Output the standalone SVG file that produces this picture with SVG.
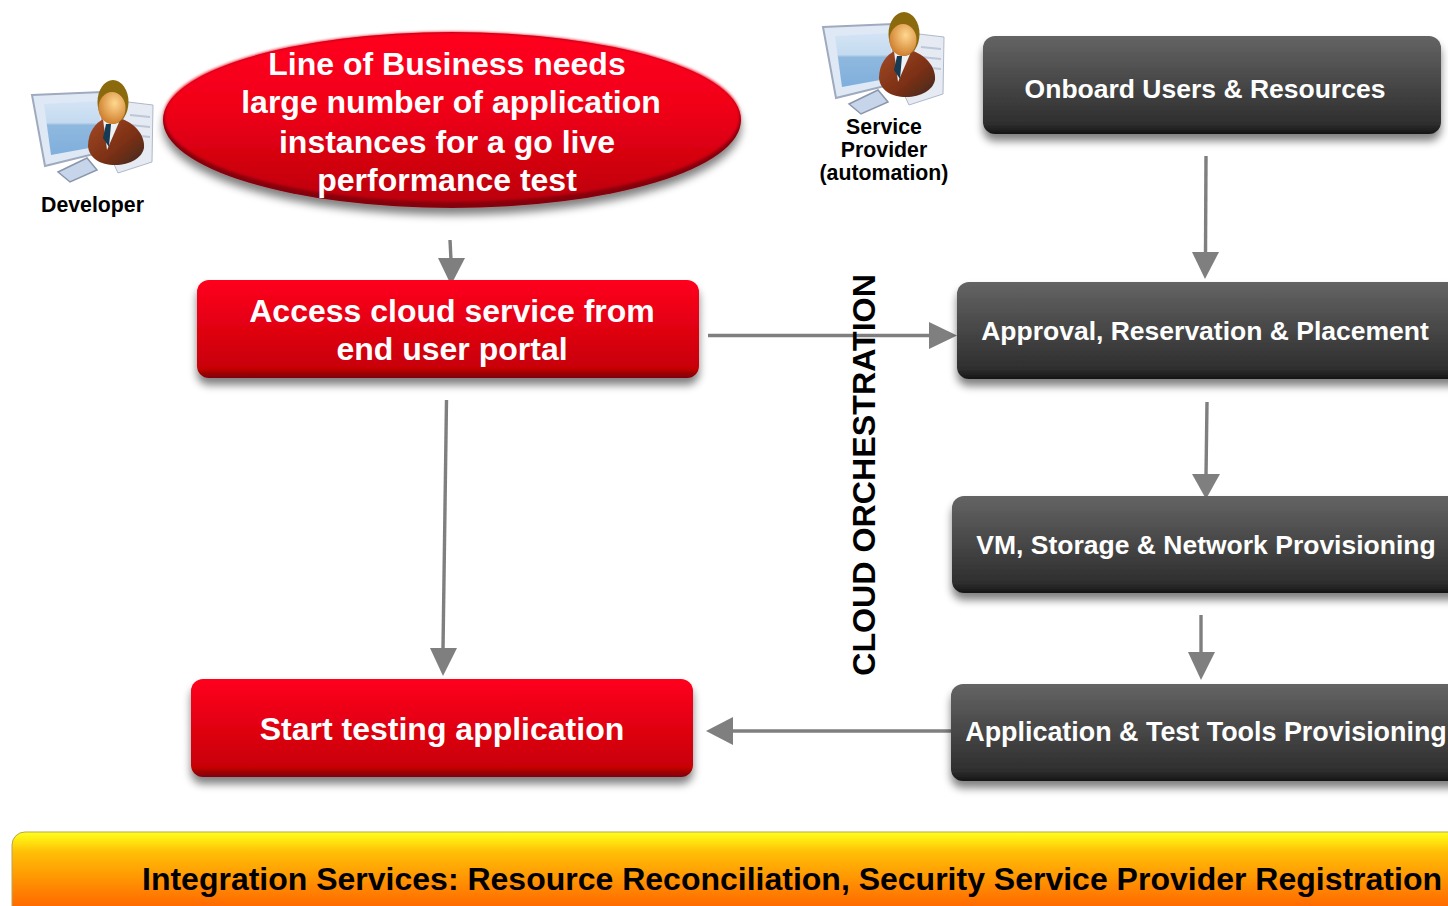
<svg xmlns="http://www.w3.org/2000/svg" width="1448" height="906" viewBox="0 0 1448 906">
<style>
text{font-family:"Liberation Sans",Arial,sans-serif;font-weight:700;text-anchor:middle}
.w{fill:#fff}.k{fill:#000}
.f32{font-size:32px}.f26{font-size:26.500px}.f21{font-size:21.300px}
.red{fill:url(#redG);filter:url(#sh)}
.dark{fill:url(#darkG);filter:url(#sh)}
.c{stroke:#7f7f7f;stroke-width:3.4;fill:none}
.h{fill:#7f7f7f}
</style>
<defs>
<linearGradient id="redG" x1="0" y1="0" x2="0" y2="1"><stop offset="0" stop-color="#ff001e"/><stop offset=".9" stop-color="#c80006"/><stop offset=".95" stop-color="#a00006"/><stop offset="1" stop-color="#7d0008"/></linearGradient>
<linearGradient id="ellG" x1="0" y1="0" x2="0" y2="1"><stop offset="0" stop-color="#ff001e"/><stop offset=".45" stop-color="#f00018"/><stop offset="1" stop-color="#bc0008"/></linearGradient>
<linearGradient id="darkG" x1="0" y1="0" x2="0" y2="1"><stop offset="0" stop-color="#646464"/><stop offset=".9" stop-color="#2e2e2e"/><stop offset="1" stop-color="#141414"/></linearGradient>
<linearGradient id="orG" x1="0" y1="0" x2="0" y2="1"><stop offset="0" stop-color="#ffff20"/><stop offset=".08" stop-color="#ffe810"/><stop offset=".2" stop-color="#ffbf06"/><stop offset=".74" stop-color="#ff6a00"/></linearGradient>
<linearGradient id="scr" x1="0" y1="0" x2="0" y2="1"><stop offset="0" stop-color="#d4e4f5"/><stop offset=".4" stop-color="#c4daef"/><stop offset=".45" stop-color="#8fb8de"/><stop offset="1" stop-color="#7fafdc"/></linearGradient>
<linearGradient id="suit" x1="0" y1="0" x2="1" y2="1"><stop offset="0" stop-color="#a34a26"/><stop offset=".6" stop-color="#7a2f14"/><stop offset="1" stop-color="#3e2a22"/></linearGradient>
<radialGradient id="face" cx=".6" cy=".35" r=".75"><stop offset="0" stop-color="#ffd890"/><stop offset="1" stop-color="#c9721f"/></radialGradient>
<filter id="sh" x="-5%" y="-10%" width="110%" height="135%"><feGaussianBlur in="SourceAlpha" stdDeviation="4"/><feOffset dy="7"/><feComponentTransfer><feFuncA type="linear" slope=".5"/></feComponentTransfer><feMerge><feMergeNode/><feMergeNode in="SourceGraphic"/></feMerge></filter>
<filter id="soft"><feGaussianBlur stdDeviation=".6"/></filter>
<filter id="soft2" x="-2%" y="-5%" width="104%" height="110%"><feGaussianBlur stdDeviation="1.500"/></filter>
<clipPath id="pc"><rect x="25" y="80" width="135" height="105"/></clipPath>
<g id="person">
<g clip-path="url(#pc)" filter="url(#soft)">
<path d="M128 102 L153 105 L152 162 L118 173 L112 160Z" fill="#e6ebf3" stroke="#aeb8c9"/>
<path d="M130 115 L150 117 M130 125 L150 127 M130 135 L150 137" stroke="#bcc7d8" stroke-width="2"/>
<path d="M58 172 L87 158 L97 170 L70 182Z" fill="#c6d5ea" stroke="#8a96ab" stroke-width="1.500"/>
<path d="M32 95 L102 92 L102 152 L45 166 Z" fill="#dfe8f5" stroke="#9faabf" stroke-width="2"/>
<path d="M44 104 L100 101 L100 146 L51 155Z" fill="url(#scr)"/>
<path d="M88 146 C88 132 96 122 104 119 L122 119 C136 124 145 136 144 148 C142 158 130 165 115 165 C100 165 89 158 88 146Z" fill="url(#suit)"/>
<path d="M103 119 L120 120 L107 150Z" fill="#eef1f4"/>
<path d="M106 124 L111 124 L109 147 L103 138Z" fill="#123a52"/>
<ellipse cx="113" cy="102" rx="15.500" ry="22" fill="#8b6a10"/>
<ellipse cx="112" cy="108" rx="13.500" ry="16" fill="url(#face)"/>
</g>
</g>
</defs>
<rect width="1448" height="906" fill="#fff"/>
<g id="connectors">
<path class="c" d="M450 240 L451 260"/><path class="h" d="M438 258 L465 258 L451 285Z"/>
<path class="c" d="M1206 156 L1205.500 254"/><path class="h" d="M1192 252 L1219 252 L1205 279Z"/>
<path class="c" d="M708 335.500 L931 335.500"/><path class="h" d="M929 322 L957 335.500 L929 349Z"/>
<path class="c" d="M1207 402 L1206 476"/><path class="h" d="M1192 474 L1220 474 L1206 499Z"/>
<path class="c" d="M446.500 400 L443 650"/><path class="h" d="M430 648 L457 648 L443 676Z"/>
<path class="c" d="M1201 615 L1201 654"/><path class="h" d="M1188 652 L1215 652 L1201 680Z"/>
<path class="c" d="M952 731 L732 731"/><path class="h" d="M733 717 L733 745 L706 731Z"/>
</g>
<g id="developer"><use href="#person"/><text class="k" x="92.500" y="212" font-size="21.300">Developer</text></g>
<g id="service-provider"><use href="#person" x="791" y="-68"/>
<text class="k f21" x="884" y="134">Service</text><text class="k f21" x="884" y="157">Provider</text><text class="k f21" x="884" y="180">(automation)</text></g>
<g id="line-of-business"><ellipse cx="452" cy="120" rx="289" ry="88" fill="#850008" filter="url(#sh)"/><ellipse cx="452" cy="117" rx="288" ry="85" fill="url(#ellG)" filter="url(#soft2)"/>
<text class="w f32" x="447" y="75">Line of Business needs</text><text class="w f32" x="451" y="113">large number of application</text><text class="w f32" x="447" y="152.500">instances for a go live</text><text class="w f32" x="447" y="190.500">performance test</text></g>
<g id="access-portal"><rect class="red" x="197" y="280" width="502" height="98" rx="12"/>
<text class="w f32" x="452" y="321.500">Access cloud service from</text><text class="w f32" x="452" y="360">end user portal</text></g>
<g id="start-testing"><rect class="red" x="191" y="679" width="502" height="98" rx="12"/>
<text class="w f32" x="442" y="739.500">Start testing application</text></g>
<g id="onboard"><rect class="dark" x="983" y="36" width="458" height="98" rx="12"/><text class="w f26" x="1205" y="98">Onboard Users &amp; Resources</text></g>
<g id="approval"><rect class="dark" x="957" y="282" width="520" height="97" rx="12"/><text class="w f26" x="1205" y="340">Approval, Reservation &amp; Placement</text></g>
<g id="vm"><rect class="dark" x="952" y="496" width="520" height="97" rx="12"/><text class="w f26" x="1206" y="554">VM, Storage &amp; Network Provisioning</text></g>
<g id="app-tools"><rect class="dark" x="951" y="684" width="520" height="97" rx="12"/><text class="w" x="1206" y="741" font-size="26.900">Application &amp; Test Tools Provisioning</text></g>
<g id="cloud-orchestration"><text class="k" transform="translate(874.500 475) rotate(-90)" font-size="32.200">CLOUD ORCHESTRATION</text></g>
<g id="integration"><rect x="12" y="832" width="1460" height="100" rx="13" fill="url(#orG)" stroke="#b9a550" stroke-width="1"/>
<text class="k" x="792" y="890" font-size="32">Integration Services: Resource Reconciliation, Security Service Provider Registration</text></g>
</svg>
